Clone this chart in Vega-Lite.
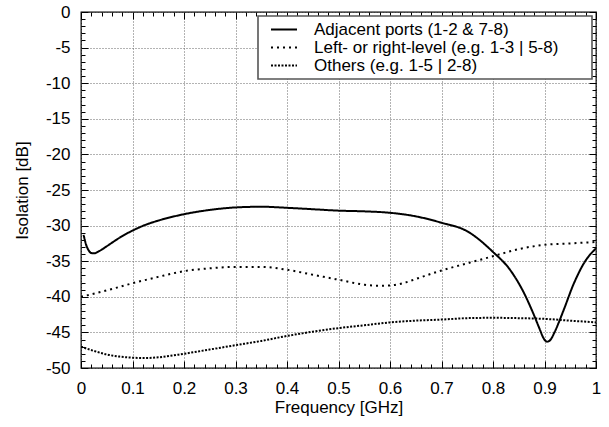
{
  "$schema": "https://vega.github.io/schema/vega-lite/v6.json",
  "autosize": "none",
  "width": 515,
  "height": 356,
  "padding": {"left": 81, "top": 12, "right": 13, "bottom": 59},
  "background": "white",
  "config": {
    "view": {"stroke": "black", "strokeWidth": 1.3},
    "font": "Liberation Sans",
    "axis": {"labelFont": "Liberation Sans", "labelFontSize": 17, "labelColor": "black", "titleFont": "Liberation Sans", "titleFontSize": 17, "titleFontWeight": "normal", "titleColor": "black", "tickColor": "black", "tickWidth": 1, "gridColor": "#666", "gridDash": [1, 2], "gridWidth": 1},
    "legend": {"strokeWidth": 1.6}
  },
  "data": {"values": [
    {"f": 0.005, "db": -31.3, "s": "Adjacent ports (1-2 & 7-8)"},
    {"f": 0.01, "db": -32.7, "s": "Adjacent ports (1-2 & 7-8)"},
    {"f": 0.015, "db": -33.5, "s": "Adjacent ports (1-2 & 7-8)"},
    {"f": 0.02, "db": -33.85, "s": "Adjacent ports (1-2 & 7-8)"},
    {"f": 0.025, "db": -33.9, "s": "Adjacent ports (1-2 & 7-8)"},
    {"f": 0.035, "db": -33.6, "s": "Adjacent ports (1-2 & 7-8)"},
    {"f": 0.05, "db": -32.9, "s": "Adjacent ports (1-2 & 7-8)"},
    {"f": 0.075, "db": -31.7, "s": "Adjacent ports (1-2 & 7-8)"},
    {"f": 0.1, "db": -30.7, "s": "Adjacent ports (1-2 & 7-8)"},
    {"f": 0.125, "db": -29.9, "s": "Adjacent ports (1-2 & 7-8)"},
    {"f": 0.15, "db": -29.3, "s": "Adjacent ports (1-2 & 7-8)"},
    {"f": 0.2, "db": -28.4, "s": "Adjacent ports (1-2 & 7-8)"},
    {"f": 0.25, "db": -27.8, "s": "Adjacent ports (1-2 & 7-8)"},
    {"f": 0.3, "db": -27.45, "s": "Adjacent ports (1-2 & 7-8)"},
    {"f": 0.35, "db": -27.35, "s": "Adjacent ports (1-2 & 7-8)"},
    {"f": 0.4, "db": -27.5, "s": "Adjacent ports (1-2 & 7-8)"},
    {"f": 0.45, "db": -27.7, "s": "Adjacent ports (1-2 & 7-8)"},
    {"f": 0.5, "db": -27.9, "s": "Adjacent ports (1-2 & 7-8)"},
    {"f": 0.55, "db": -28.0, "s": "Adjacent ports (1-2 & 7-8)"},
    {"f": 0.6, "db": -28.2, "s": "Adjacent ports (1-2 & 7-8)"},
    {"f": 0.65, "db": -28.7, "s": "Adjacent ports (1-2 & 7-8)"},
    {"f": 0.7, "db": -29.6, "s": "Adjacent ports (1-2 & 7-8)"},
    {"f": 0.75, "db": -30.8, "s": "Adjacent ports (1-2 & 7-8)"},
    {"f": 0.8, "db": -33.7, "s": "Adjacent ports (1-2 & 7-8)"},
    {"f": 0.833, "db": -36.2, "s": "Adjacent ports (1-2 & 7-8)"},
    {"f": 0.859, "db": -39.3, "s": "Adjacent ports (1-2 & 7-8)"},
    {"f": 0.878, "db": -42.3, "s": "Adjacent ports (1-2 & 7-8)"},
    {"f": 0.891, "db": -44.6, "s": "Adjacent ports (1-2 & 7-8)"},
    {"f": 0.898, "db": -45.8, "s": "Adjacent ports (1-2 & 7-8)"},
    {"f": 0.905, "db": -46.3, "s": "Adjacent ports (1-2 & 7-8)"},
    {"f": 0.912, "db": -46.0, "s": "Adjacent ports (1-2 & 7-8)"},
    {"f": 0.92, "db": -44.9, "s": "Adjacent ports (1-2 & 7-8)"},
    {"f": 0.937, "db": -41.9, "s": "Adjacent ports (1-2 & 7-8)"},
    {"f": 0.956, "db": -38.3, "s": "Adjacent ports (1-2 & 7-8)"},
    {"f": 0.979, "db": -35.0, "s": "Adjacent ports (1-2 & 7-8)"},
    {"f": 1.0, "db": -33.2, "s": "Adjacent ports (1-2 & 7-8)"},
    {"f": 0.0, "db": -40.0, "s": "Left- or right-level (e.g. 1-3 | 5-8)"},
    {"f": 0.05, "db": -39.1, "s": "Left- or right-level (e.g. 1-3 | 5-8)"},
    {"f": 0.1, "db": -38.1, "s": "Left- or right-level (e.g. 1-3 | 5-8)"},
    {"f": 0.15, "db": -37.2, "s": "Left- or right-level (e.g. 1-3 | 5-8)"},
    {"f": 0.2, "db": -36.4, "s": "Left- or right-level (e.g. 1-3 | 5-8)"},
    {"f": 0.25, "db": -36.0, "s": "Left- or right-level (e.g. 1-3 | 5-8)"},
    {"f": 0.3, "db": -35.8, "s": "Left- or right-level (e.g. 1-3 | 5-8)"},
    {"f": 0.35, "db": -35.8, "s": "Left- or right-level (e.g. 1-3 | 5-8)"},
    {"f": 0.4, "db": -36.2, "s": "Left- or right-level (e.g. 1-3 | 5-8)"},
    {"f": 0.45, "db": -36.9, "s": "Left- or right-level (e.g. 1-3 | 5-8)"},
    {"f": 0.5, "db": -37.6, "s": "Left- or right-level (e.g. 1-3 | 5-8)"},
    {"f": 0.55, "db": -38.3, "s": "Left- or right-level (e.g. 1-3 | 5-8)"},
    {"f": 0.575, "db": -38.45, "s": "Left- or right-level (e.g. 1-3 | 5-8)"},
    {"f": 0.6, "db": -38.4, "s": "Left- or right-level (e.g. 1-3 | 5-8)"},
    {"f": 0.625, "db": -38.1, "s": "Left- or right-level (e.g. 1-3 | 5-8)"},
    {"f": 0.65, "db": -37.5, "s": "Left- or right-level (e.g. 1-3 | 5-8)"},
    {"f": 0.7, "db": -36.3, "s": "Left- or right-level (e.g. 1-3 | 5-8)"},
    {"f": 0.75, "db": -35.3, "s": "Left- or right-level (e.g. 1-3 | 5-8)"},
    {"f": 0.8, "db": -34.3, "s": "Left- or right-level (e.g. 1-3 | 5-8)"},
    {"f": 0.85, "db": -33.3, "s": "Left- or right-level (e.g. 1-3 | 5-8)"},
    {"f": 0.9, "db": -32.7, "s": "Left- or right-level (e.g. 1-3 | 5-8)"},
    {"f": 0.95, "db": -32.5, "s": "Left- or right-level (e.g. 1-3 | 5-8)"},
    {"f": 1.0, "db": -32.3, "s": "Left- or right-level (e.g. 1-3 | 5-8)"},
    {"f": 0.0, "db": -47.0, "s": "Others (e.g. 1-5 | 2-8)"},
    {"f": 0.025, "db": -47.6, "s": "Others (e.g. 1-5 | 2-8)"},
    {"f": 0.05, "db": -48.1, "s": "Others (e.g. 1-5 | 2-8)"},
    {"f": 0.075, "db": -48.4, "s": "Others (e.g. 1-5 | 2-8)"},
    {"f": 0.1, "db": -48.55, "s": "Others (e.g. 1-5 | 2-8)"},
    {"f": 0.125, "db": -48.6, "s": "Others (e.g. 1-5 | 2-8)"},
    {"f": 0.15, "db": -48.5, "s": "Others (e.g. 1-5 | 2-8)"},
    {"f": 0.2, "db": -48.0, "s": "Others (e.g. 1-5 | 2-8)"},
    {"f": 0.25, "db": -47.4, "s": "Others (e.g. 1-5 | 2-8)"},
    {"f": 0.3, "db": -46.8, "s": "Others (e.g. 1-5 | 2-8)"},
    {"f": 0.35, "db": -46.2, "s": "Others (e.g. 1-5 | 2-8)"},
    {"f": 0.4, "db": -45.5, "s": "Others (e.g. 1-5 | 2-8)"},
    {"f": 0.45, "db": -44.9, "s": "Others (e.g. 1-5 | 2-8)"},
    {"f": 0.5, "db": -44.4, "s": "Others (e.g. 1-5 | 2-8)"},
    {"f": 0.55, "db": -44.0, "s": "Others (e.g. 1-5 | 2-8)"},
    {"f": 0.6, "db": -43.6, "s": "Others (e.g. 1-5 | 2-8)"},
    {"f": 0.65, "db": -43.35, "s": "Others (e.g. 1-5 | 2-8)"},
    {"f": 0.7, "db": -43.2, "s": "Others (e.g. 1-5 | 2-8)"},
    {"f": 0.75, "db": -43.0, "s": "Others (e.g. 1-5 | 2-8)"},
    {"f": 0.8, "db": -42.95, "s": "Others (e.g. 1-5 | 2-8)"},
    {"f": 0.85, "db": -43.0, "s": "Others (e.g. 1-5 | 2-8)"},
    {"f": 0.9, "db": -43.1, "s": "Others (e.g. 1-5 | 2-8)"},
    {"f": 0.95, "db": -43.35, "s": "Others (e.g. 1-5 | 2-8)"},
    {"f": 1.0, "db": -43.6, "s": "Others (e.g. 1-5 | 2-8)"}
  ]},
  "resolve": {"axis": {"x": "independent", "y": "independent"}},
  "layer": [
    {
      "mark": {"type": "line", "interpolate": "monotone", "color": "black", "strokeWidth": 2, "strokeCap": "butt", "clip": true},
      "encoding": {
        "x": {"field": "f", "type": "quantitative", "scale": {"domain": [0, 1], "nice": false, "zero": false},
          "axis": {"orient": "bottom", "values": [0, 0.1, 0.2, 0.3, 0.4, 0.5, 0.6, 0.7, 0.8, 0.9, 1], "labelExpr": "'' + datum.value", "grid": true, "ticks": true, "tickSize": -7, "domain": false, "labelPadding": 19, "labelFlush": false, "title": "Frequency [GHz]", "titlePadding": 3}},
        "y": {"field": "db", "type": "quantitative", "scale": {"domain": [-50, 0], "nice": false, "zero": false},
          "axis": {"orient": "left", "values": [-50, -45, -40, -35, -30, -25, -20, -15, -10, -5, 0], "labelExpr": "'' + datum.value", "grid": true, "ticks": true, "tickSize": -7, "domain": false, "labelPadding": 18, "labelFlush": false, "title": "Isolation [dB]", "titlePadding": 14}},
        "strokeDash": {"field": "s", "type": "nominal",
          "scale": {"domain": ["Adjacent ports (1-2 & 7-8)", "Left- or right-level (e.g. 1-3 | 5-8)", "Others (e.g. 1-5 | 2-8)"], "range": [[1, 0], [2, 4], [2, 1.5]]},
          "legend": {"orient": "top-right", "offset": 4, "title": null, "symbolType": "stroke", "symbolSize": 676, "symbolStrokeWidth": 2, "symbolStrokeColor": "black", "labelFont": "Liberation Sans", "labelFontSize": 17, "labelColor": "black", "padding": 5, "clipHeight": 17, "strokeColor": "#555", "fillColor": "white", "symbolOffset": 7, "labelOffset": 16, "rowPadding": 0, "labelLimit": 400, "labelExpr": "datum.label + '\u00a0\u00a0\u00a0\u00a0\u00a0\u00a0\u200b'"}}
      }
    },
    {
      "mark": {"type": "line", "strokeOpacity": 0},
      "encoding": {
        "x": {"field": "f", "type": "quantitative", "axis": {"orient": "top", "values": [0, 0.1, 0.2, 0.3, 0.4, 0.5, 0.6, 0.7, 0.8, 0.9, 1], "labels": false, "grid": false, "domain": false, "ticks": true, "tickSize": -7, "title": null}},
        "y": {"field": "db", "type": "quantitative", "axis": {"orient": "right", "values": [-50, -45, -40, -35, -30, -25, -20, -15, -10, -5, 0], "labels": false, "grid": false, "domain": false, "ticks": true, "tickSize": -7, "title": null}},
        "detail": {"field": "s"}
      }
    },
    {
      "mark": {"type": "line", "strokeOpacity": 0},
      "encoding": {
        "x": {"field": "f", "type": "quantitative", "axis": {"orient": "bottom", "values": [0.02,0.04,0.06,0.08,0.12,0.14,0.16,0.18,0.22,0.24,0.26,0.28,0.32,0.34,0.36,0.38,0.42,0.44,0.46,0.48,0.52,0.54,0.56,0.58,0.62,0.64,0.66,0.68,0.72,0.74,0.76,0.78,0.82,0.84,0.86,0.88,0.92,0.94,0.96,0.98], "labels": false, "grid": false, "domain": false, "ticks": true, "tickSize": -4, "title": null}},
        "y": {"field": "db", "type": "quantitative", "axis": {"orient": "left", "values": [-49,-48,-47,-46,-44,-43,-42,-41,-39,-38,-37,-36,-34,-33,-32,-31,-29,-28,-27,-26,-24,-23,-22,-21,-19,-18,-17,-16,-14,-13,-12,-11,-9,-8,-7,-6,-4,-3,-2,-1], "labels": false, "grid": false, "domain": false, "ticks": true, "tickSize": -4, "title": null}},
        "detail": {"field": "s"}
      }
    },
    {
      "mark": {"type": "line", "strokeOpacity": 0},
      "encoding": {
        "x": {"field": "f", "type": "quantitative", "axis": {"orient": "top", "values": [0.02,0.04,0.06,0.08,0.12,0.14,0.16,0.18,0.22,0.24,0.26,0.28,0.32,0.34,0.36,0.38,0.42,0.44,0.46,0.48,0.52,0.54,0.56,0.58,0.62,0.64,0.66,0.68,0.72,0.74,0.76,0.78,0.82,0.84,0.86,0.88,0.92,0.94,0.96,0.98], "labels": false, "grid": false, "domain": false, "ticks": true, "tickSize": -4, "title": null}},
        "y": {"field": "db", "type": "quantitative", "axis": {"orient": "right", "values": [-49,-48,-47,-46,-44,-43,-42,-41,-39,-38,-37,-36,-34,-33,-32,-31,-29,-28,-27,-26,-24,-23,-22,-21,-19,-18,-17,-16,-14,-13,-12,-11,-9,-8,-7,-6,-4,-3,-2,-1], "labels": false, "grid": false, "domain": false, "ticks": true, "tickSize": -4, "title": null}},
        "detail": {"field": "s"}
      }
    }
  ]
}
